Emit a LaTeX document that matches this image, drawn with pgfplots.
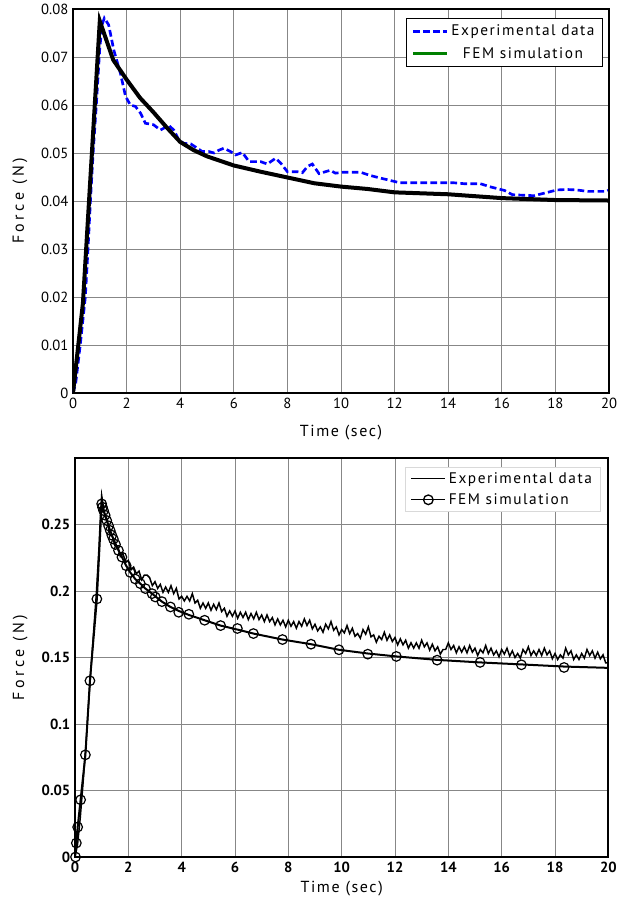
\documentclass[border=0pt]{standalone}
\usepackage{fontspec}
\setmainfont{PT Sans}
\newfontfamily\spaced[LetterSpace=10]{PT Sans}
\newfontfamily\wide[LetterSpace=22]{PT Sans}
\usepackage{pgfplots}
\pgfplotsset{compat=1.18}
\definecolor{gridgray}{RGB}{135,135,135}
\definecolor{legendgreen}{RGB}{0,128,0}

\pgfplotstableread{
x y
0 0
0.1 0.002
0.27 0.010
0.46 0.020
0.56 0.030
0.65 0.040
0.75 0.050
0.87 0.060
1.0 0.072
1.1 0.077
1.17 0.0781
1.33 0.0767
1.52 0.0715
1.77 0.0666
1.96 0.0618
2.14 0.0600
2.33 0.0597
2.52 0.0583
2.70 0.0562
3.00 0.0559
3.26 0.0548
3.58 0.0557
3.76 0.0548
3.95 0.0527
4.14 0.0520
4.39 0.0519
4.64 0.0510
4.82 0.0503
5.07 0.0503
5.26 0.0500
5.45 0.0506
5.63 0.0510
5.88 0.0503
6.07 0.0496
6.32 0.0501
6.57 0.0482
7.00 0.0482
7.25 0.0477
7.56 0.0489
7.75 0.0479
8.00 0.0461
8.37 0.0461
8.56 0.0459
8.75 0.0472
8.93 0.0477
9.18 0.0457
9.60 0.0464
9.79 0.0458
10.1 0.0460
10.72 0.0460
11.1 0.0453
11.6 0.0446
11.97 0.0441
12.2 0.0438
14.2 0.0438
14.6 0.0436
15.2 0.0436
15.6 0.0429
16.1 0.0422
16.4 0.0413
17.2 0.0411
17.7 0.0418
18.06 0.0423
18.4 0.0424
18.8 0.0423
19.2 0.0420
19.9 0.0420
20.0 0.0423
}\topexp

\pgfplotstableread{
x y
0 0
0.37 0.0187
1.0 0.0775
1.5 0.0694
2.0 0.0653
2.5 0.0615
3.0 0.0585
3.5 0.0553
4.0 0.0523
4.5 0.0506
5.0 0.0493
6.0 0.0474
7.0 0.0461
8.0 0.0449
9.0 0.0437
10.0 0.0430
11.0 0.0425
12.0 0.0418
14.0 0.0414
16.0 0.0406
18.0 0.0402
20.0 0.0401
}\topfem

\pgfplotstableread{
x y
0 0
0.1 0.010
0.2 0.030
0.3 0.055
0.4 0.082
0.5 0.112
0.6 0.142
0.7 0.170
0.8 0.198
0.9 0.233
0.95 0.255
1.0 0.272
1.1 0.259
1.2 0.254
1.3 0.243
1.4 0.241
1.5 0.234
1.6 0.234
1.7 0.226
1.8 0.228
1.9 0.2215
2.0 0.223
2.1 0.216
2.2 0.218
2.3 0.213
2.4 0.215
2.5 0.2085
2.6 0.212
2.7 0.212
2.8 0.210
2.9 0.204
3.0 0.207
3.1 0.202
3.2 0.205
3.3 0.199
3.4 0.203
3.5 0.199
3.6 0.204
3.7 0.198
3.8 0.202
3.9 0.194
4.0 0.196
4.1 0.1925
4.2 0.196
4.3 0.1925
4.4 0.198
4.5 0.191
4.6 0.193
4.7 0.187
4.8 0.191
4.9 0.187
5.0 0.191
5.1 0.1855
5.2 0.190
5.3 0.186
5.4 0.191
5.5 0.1845
5.6 0.187
5.7 0.181
5.8 0.185
5.9 0.181
6.0 0.185
6.1 0.1795
6.2 0.184
6.3 0.180
6.4 0.184
6.5 0.1785
6.6 0.183
6.7 0.179
6.8 0.184
6.9 0.1785
7.0 0.182
7.1 0.177
7.2 0.182
7.3 0.177
7.4 0.180
7.5 0.1745
7.6 0.179
7.7 0.1745
7.8 0.178
7.9 0.173
8.0 0.178
8.1 0.1735
8.2 0.177
8.3 0.172
8.4 0.177
8.5 0.1735
8.6 0.179
8.7 0.174
8.8 0.178
8.9 0.1715
9.0 0.175
9.1 0.170
9.2 0.173
9.3 0.169
9.4 0.175
9.5 0.1715
9.6 0.177
9.7 0.1705
9.8 0.173
9.9 0.167
10.0 0.171
10.1 0.1685
10.2 0.174
10.3 0.168
10.4 0.172
10.5 0.166
10.6 0.168
10.7 0.1645
10.8 0.171
10.9 0.1675
11.0 0.173
11.1 0.1655
11.2 0.167
11.3 0.1615
11.4 0.166
11.5 0.1635
11.6 0.169
11.7 0.163
11.8 0.167
11.9 0.162
12.0 0.165
12.1 0.1595
12.2 0.164
12.3 0.1595
12.4 0.163
12.5 0.157
12.6 0.161
12.7 0.157
12.8 0.161
12.9 0.157
13.0 0.163
13.1 0.158
13.2 0.161
13.3 0.1555
13.4 0.160
13.5 0.155
13.6 0.158
13.7 0.1525
13.8 0.156
13.9 0.156
14.0 0.161
14.1 0.156
14.2 0.159
14.3 0.1535
14.4 0.158
14.5 0.154
14.6 0.158
14.7 0.1535
14.8 0.159
14.9 0.154
15.0 0.157
15.1 0.1515
15.2 0.156
15.3 0.1535
15.4 0.159
15.5 0.153
15.6 0.157
15.7 0.152
15.8 0.155
15.9 0.1505
16.0 0.156
16.1 0.1525
16.2 0.157
16.3 0.151
16.4 0.155
16.5 0.150
16.6 0.153
16.7 0.1495
16.8 0.156
16.9 0.153
17.0 0.158
17.1 0.1515
17.2 0.155
17.3 0.1515
17.4 0.156
17.5 0.1515
17.6 0.157
17.7 0.152
17.8 0.155
17.9 0.149
18.0 0.153
18.1 0.1485
18.2 0.152
18.3 0.1495
18.4 0.157
18.5 0.152
18.6 0.155
18.7 0.1485
18.8 0.152
18.9 0.1485
19.0 0.153
19.1 0.1495
19.2 0.156
19.3 0.1515
19.4 0.155
19.5 0.1495
19.6 0.154
19.7 0.149
19.8 0.152
19.9 0.146
20.0 0.146
}\botexp

\pgfplotstableread{
x y
0.02 0
0.05 0.0105
0.10 0.0225
0.21 0.043
0.39 0.0768
0.56 0.1325
0.82 0.194
1.00 0.2655
1.03 0.263
1.07 0.2605
1.13 0.257
1.19 0.253
1.26 0.249
1.32 0.2455
1.38 0.242
1.44 0.239
1.52 0.235
1.63 0.2305
1.76 0.2255
1.92 0.219
2.07 0.214
2.26 0.209
2.45 0.2055
2.64 0.2018
2.89 0.198
3.01 0.1955
3.26 0.192
3.58 0.188
3.89 0.184
4.27 0.1825
4.86 0.178
5.46 0.174
6.09 0.1718
6.69 0.168
7.78 0.1635
8.85 0.160
9.90 0.1558
10.98 0.1525
12.05 0.1508
13.58 0.148
15.19 0.1463
16.74 0.1445
18.34 0.1425
}\botfemmarks

\pgfplotstableread{
x y
0 0
0.05 0.0105
0.10 0.0225
0.21 0.043
0.39 0.0768
0.56 0.1325
0.82 0.194
1.00 0.2655
1.07 0.2605
1.19 0.253
1.32 0.2455
1.44 0.239
1.63 0.2305
1.76 0.2255
1.92 0.219
2.07 0.214
2.26 0.209
2.45 0.2055
2.64 0.2018
2.89 0.198
3.26 0.192
3.58 0.188
3.89 0.185
4.27 0.1820
4.86 0.178
5.46 0.174
6.09 0.1710
6.69 0.168
7.78 0.1635
8.85 0.160
9.90 0.1558
10.98 0.1530
12.05 0.1508
13.58 0.1482
15.19 0.1463
16.74 0.1448
18.34 0.1432
20.0 0.1422
}\botfemline

\pgfplotsset{
  myaxis/.style={
    scale only axis,
    xmin=0, xmax=20,
    xtick={0,2,4,6,8,10,12,14,16,18,20},
    grid=major,
    major grid style={gridgray, line width=0.7pt},
    major tick length=0pt,
    axis line style={black, line width=1pt},
    scaled y ticks=false,
    /pgf/number format/assume math mode=true,
    yticklabel style={/pgf/number format/fixed, /pgf/number format/precision=2},
    legend image code/.code={\draw[mark repeat=2,mark phase=2,##1] plot coordinates {(0cm,0cm) (0.45cm,0cm) (0.9cm,0cm)};},
  }
}

\begin{document}
\begin{tikzpicture}
\useasboundingbox (0,0) rectangle (474.75pt,681.75pt);
% ---------------- top ----------------
\begin{axis}[myaxis,
  at={(54.75pt,387pt)}, anchor=south west,
  width=402pt, height=288pt,
  ymin=0, ymax=0.08,
  ytick={0,0.01,0.02,0.03,0.04,0.05,0.06,0.07,0.08},
  ticklabel style={font=\fontsize{11}{13}\selectfont},
  xlabel={\spaced Time (sec)},
  ylabel={\wide Force (N)},
  label style={font=\fontsize{12}{14}\selectfont},
  xlabel style={at={(axis description cs:0.5,-0.104)}, anchor=center},
  ylabel style={at={(axis description cs:-0.099,0.5)}, anchor=center},
  legend cell align=center,
  legend style={at={(0.989,0.977)}, anchor=north east, draw=black, line width=0.8pt,
    font=\spaced\fontsize{11.5}{14}\selectfont, row sep=3pt, inner xsep=4pt, inner ysep=3pt},
]
\addplot[blue, line width=2pt, dash pattern=on 5pt off 2.5pt] table {\topexp};
\addlegendentry{Experimental data}
\addplot[black, line width=3pt, forget plot] table {\topfem};
\addlegendimage{legendgreen, line width=2pt}
\addlegendentry{FEM simulation}
\draw[black, line width=2.2pt] (rel axis cs:0,0) -- (rel axis cs:1,0) -- (rel axis cs:1,1);
\end{axis}
% ---------------- bottom ----------------
\begin{axis}[myaxis,
  at={(56.25pt,39pt)}, anchor=south west,
  width=400pt, height=299.25pt,
  ymin=0, ymax=0.3,
  ytick={0,0.05,0.1,0.15,0.2,0.25,0.3},
  yticklabels={0,0.05,0.1,0.15,0.2,0.25,},
  ticklabel style={font=\bfseries\fontsize{11}{13}\selectfont},
  xlabel={\spaced Time (sec)},
  ylabel={\wide Force (N)},
  label style={font=\fontsize{12}{14}\selectfont},
  xlabel style={at={(axis description cs:0.5,-0.078)}, anchor=center},
  ylabel style={at={(axis description cs:-0.103,0.5)}, anchor=center},
  legend cell align=left,
  legend style={at={(0.985,0.978)}, anchor=north east, draw=black!15, line width=0.6pt,
    font=\spaced\fontsize{11.5}{14}\selectfont, row sep=2pt, inner xsep=4pt, inner ysep=2pt},
]
\addplot[black, line width=1.1pt, forget plot] table {\botexp};
\addlegendimage{black, line width=0.7pt}
\addlegendentry{Experimental data}
\addplot[black, line width=1.5pt, forget plot] table {\botfemline};
\addplot[black, only marks, mark=o, mark size=3.6pt, mark options={line width=0.9pt}, forget plot] table {\botfemmarks};
\addlegendimage{black, line width=1pt, mark=o, mark size=3.6pt}
\addlegendentry{FEM simulation}
\draw[black, line width=2pt] (rel axis cs:0,0) -- (rel axis cs:1,0) -- (rel axis cs:1,1);
\end{axis}
\end{tikzpicture}
\end{document}
